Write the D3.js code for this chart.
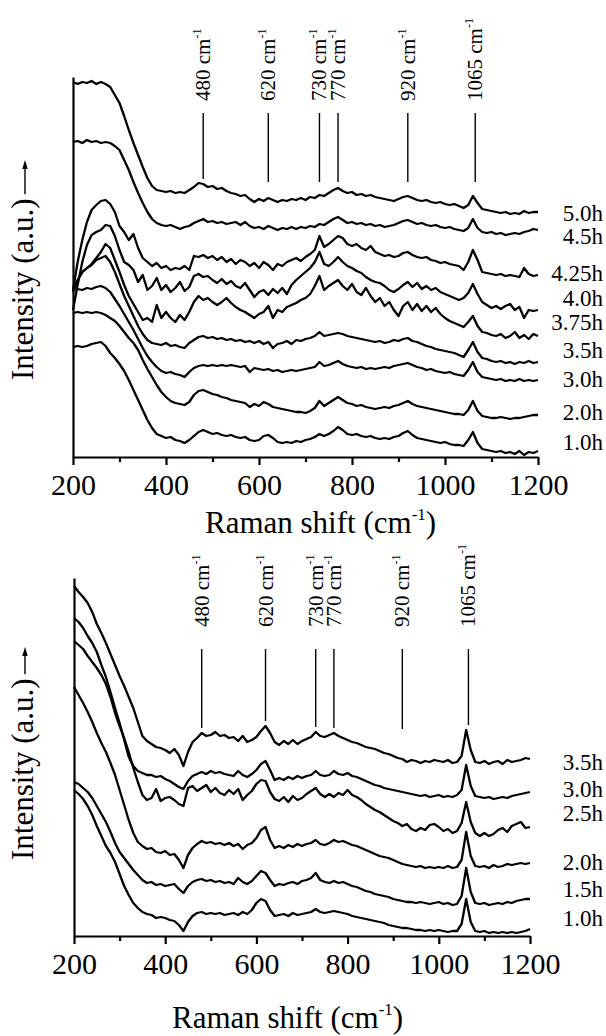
<!DOCTYPE html>
<html>
<head>
<meta charset="utf-8">
<script src="https://cdn.jsdelivr.net/npm/d3@7/dist/d3.min.js"></script>
<style>
  body { margin: 0; background: #fff; }
  text { font-family: "Liberation Serif", "Times New Roman", serif; fill: #000; }
</style>
</head>
<body>
<div id="chart"></div>
<script>
// Raman shift grid (cm-1) shared by every spectrum
var shift = d3.range(200, 1201, 10);

var xTicks = [200, 400, 600, 800, 1000, 1200];
var xMinorTicks = [300, 500, 700, 900, 1100];
var peaks = [480, 620, 730, 770, 920, 1065];

// upper panel, intensity in a.u. (stacked as plotted)
var topLabels = ["5.0h", "4.5h", "4.25h", "4.0h", "3.75h", "3.5h", "3.0h", "2.0h", "1.0h"];
var top50 = [418,416,418,417,419,416,418,416,413,405, 397,384,370,357,345,333,322,314,310,309, 308,309,307,308,307,310,313,317,316,313, 314,311,312,309,307,306,304,305,301,298, 301,299,302,300,298,300,299,301,300,302, 300,303,302,305,304,307,310,312,309,307, 308,305,306,304,305,303,302,301,300,299, 301,303,304,302,300,299,300,298,297,298, 296,295,296,294,292,295,304,297,291,290, 289,288,287,288,286,287,286,289,287,288, 288];
var top45 = [358,359,357,360,358,359,357,358,357,354, 350,340,330,318,307,297,288,281,277,275, 274,275,273,271,273,274,277,279,281,278, 279,277,278,276,277,278,275,278,274,272, 273,271,274,272,270,272,271,273,271,273, 272,274,273,276,275,278,281,283,280,277, 278,276,277,275,276,274,275,273,274,275, 277,279,280,278,276,277,275,274,275,273, 272,273,271,270,269,272,281,272,268,267, 268,266,267,265,266,267,266,268,269,271, 270];
var top425 = [210,238,260,278,290,295,299,300,296,288, 274,268,260,266,252,242,238,234,237,232, 234,230,232,231,234,230,244,243,245,242, 244,240,243,238,241,236,240,238,234,237, 232,238,235,230,236,234,238,240,242,239, 243,246,250,264,253,256,260,264,262,256, 254,256,252,250,254,248,246,244,245,243, 244,247,248,245,243,242,243,240,239,237, 238,236,235,234,230,238,250,240,228,227, 226,225,226,224,225,224,223,232,226,224, 225];
var top40 = [190,215,238,255,265,268,270,275,274,264, 250,238,235,230,218,225,210,214,222,210, 215,208,212,218,209,213,224,226,223,224, 220,217,221,216,219,214,212,217,210,203, 208,210,205,211,207,212,206,215,220,224, 228,232,238,248,236,234,238,243,238,234, 232,229,227,223,220,218,217,214,210,208, 211,215,218,213,217,211,214,210,212,208, 206,204,202,200,202,207,216,206,198,195, 192,194,191,194,196,190,193,182,190,189, 190];
var top375 = [208,220,228,232,236,242,248,256,252,240, 228,215,204,196,188,180,182,178,195,182, 188,182,178,185,180,188,198,204,200,202, 198,195,198,202,197,193,190,188,185,182, 186,188,194,182,190,188,193,195,197,200, 202,206,214,224,210,214,217,220,214,210, 216,208,205,212,204,198,202,194,198,190, 184,194,198,190,196,189,194,188,192,186, 182,179,177,175,173,178,184,174,168,167, 165,164,166,162,164,168,162,165,161,166, 164];
var top35 = [210,220,228,232,235,240,242,244,238,228, 216,204,194,184,174,166,160,157,156,155, 157,154,155,153,152,157,160,163,164,162, 163,161,162,160,161,159,160,158,159,157, 159,156,158,152,156,157,159,156,160,159, 161,162,164,168,164,165,166,167,166,164, 163,162,161,160,159,158,159,157,158,160, 159,161,162,159,158,156,154,153,151,150, 149,148,147,145,143,150,158,148,142,141, 139,138,139,137,138,136,138,137,139,137, 138];
var top30 = [210,211,210,212,211,213,214,212,208,201, 194,186,178,170,161,152,144,138,133,129, 127,128,126,125,123,128,132,134,135,134, 135,134,135,134,135,134,133,134,128,132, 131,130,131,129,130,128,129,130,129,130, 131,132,133,138,134,135,137,139,136,134, 133,132,133,131,132,131,132,133,132,134, 135,136,137,135,133,132,130,131,129,128, 127,128,126,125,124,130,138,128,123,122, 121,120,121,119,120,119,121,119,120,119, 120];
var top20 = [187,188,187,188,187,188,187,185,182,179, 174,168,162,157,150,140,131,123,115,108, 103,99,97,96,95,98,105,109,110,108, 106,105,103,102,100,99,98,97,93,96, 94,98,96,93,92,91,90,89,88,88, 87,89,92,99,94,97,100,103,100,97, 96,94,95,93,92,91,92,93,92,94, 95,97,99,96,94,93,92,91,90,89, 88,87,86,86,85,90,99,89,84,83, 82,82,83,82,81,82,82,83,84,85, 85];
var top10 = [153,154,153,154,156,157,158,154,147,142, 136,129,120,110,100,90,80,72,66,64, 62,63,60,59,57,60,64,68,70,68, 66,67,65,64,65,63,62,63,60,59, 60,64,65,62,58,57,58,57,59,58, 60,61,63,66,64,66,69,73,70,66, 65,66,64,63,64,62,61,62,61,63, 64,67,69,65,62,61,60,59,58,57, 58,56,55,55,54,60,68,57,51,50, 49,48,49,47,48,46,49,45,48,47, 49];

// lower panel
var botLabels = ["3.5h", "3.0h", "2.5h", "2.0h", "1.5h", "1.0h"];
var bot35 = [414,408,403,397,388,376,367,357,346,335, 324,314,303,292,278,264,259,256,253,252, 250,247,251,245,234,248,258,262,267,264, 265,268,264,265,262,263,259,264,258,260, 263,269,274,267,258,255,259,256,260,256, 259,261,263,268,264,263,265,267,264,262, 260,258,257,255,253,252,251,249,247,246, 244,242,241,238,240,239,237,239,238,240, 239,238,240,237,238,244,270,250,238,237, 239,236,238,239,236,240,238,239,240,242, 241];
var bot30 = [382,378,372,364,357,348,335,323,308,292, 277,260,243,234,229,227,225,225,223,224, 221,219,216,213,211,219,224,226,228,226, 229,227,228,226,225,224,229,225,223,226, 230,236,239,230,220,222,220,223,221,224, 222,224,225,229,225,224,225,229,226,225, 227,224,223,221,219,217,215,214,212,211, 210,209,208,207,206,205,204,205,203,204, 205,203,204,203,205,210,235,214,204,203, 202,203,201,202,203,202,204,205,206,207, 208];
var bot25 = [359,355,351,344,338,332,325,316,303,287, 274,262,248,232,218,205,200,202,211,199, 202,203,200,196,194,212,214,209,212,215, 208,212,207,205,210,206,211,200,205,209, 216,220,219,208,201,199,203,198,204,200, 202,206,209,212,206,203,206,203,207,205, 210,205,203,200,196,193,190,188,185,182, 179,177,174,176,171,169,172,170,175,176, 173,169,171,167,169,177,198,178,167,164, 167,164,166,170,172,168,174,176,178,172, 173];
var bot20 = [313,305,297,288,278,267,257,248,237,225, 210,195,180,167,158,154,151,152,148,147, 149,145,146,140,132,145,152,156,159,157, 158,156,157,155,157,154,156,151,155,157, 162,170,173,160,152,154,152,155,153,156, 154,156,157,160,156,155,157,160,158,159, 157,155,154,152,150,148,146,144,143,142, 140,138,136,135,134,133,134,132,133,132, 133,132,134,132,133,140,168,144,134,133, 134,132,135,133,134,136,135,136,137,136, 137];
var bot15 = [218,216,212,208,202,194,186,178,168,157, 148,142,136,130,125,120,117,118,115,116, 114,115,116,111,107,114,118,120,121,119, 120,118,119,117,118,116,122,118,116,119, 124,129,127,120,114,116,115,117,118,116, 119,120,122,127,120,118,117,119,117,118, 116,114,113,111,109,108,106,105,104,103, 101,100,99,98,98,97,98,97,96,97, 98,96,97,95,96,104,132,108,97,96, 97,95,96,97,96,98,97,99,100,101, 101];
var bot10 = [210,206,201,194,185,174,164,154,147,138, 126,114,105,97,92,88,86,85,82,83, 82,80,79,75,69,78,84,87,88,86, 87,86,87,85,86,87,85,88,86,90, 97,101,99,90,84,85,86,84,87,85, 86,87,88,91,88,87,88,89,88,87, 86,84,83,82,81,80,79,78,77,75, 74,73,72,72,71,70,70,69,70,69, 70,69,68,69,69,76,101,78,69,68, 69,67,68,67,68,67,68,67,68,69, 71];

// Layout of the two stacked panels
var panels = [
  {
    series: [top50, top45, top425, top40, top375, top35, top30, top20, top10],
    labels: topLabels,
    labelY: [213, 236, 273, 298, 322, 350, 379, 412, 442],
    left: 73, right: 538, top: 77, bottom: 457,
    domain: [43, 423],
    peakTextY: 101, peakLineTop: 113, peakLineMax: 182,
    titleX: 205, titleY: 533,
    yTitleStart: 380, arrowTip: 160
  },
  {
    series: [bot35, bot30, bot25, bot20, bot15, bot10],
    labels: botLabels,
    labelY: [762, 789, 813, 862, 889, 918],
    left: 74, right: 530, top: 578, bottom: 936,
    domain: [64, 422],
    peakTextY: 627, peakLineTop: 649, peakLineMax: 729,
    titleX: 172, titleY: 1028,
    yTitleStart: 860, arrowTip: 647
  }
];

var svg = d3.select("#chart")
  .append("svg")
  .attr("width", 606)
  .attr("height", 1036);

panels.forEach(function(p) {
  var x = d3.scaleLinear().domain([200, 1200]).range([p.left, p.right]);
  var y = d3.scaleLinear().domain(p.domain).range([p.bottom, p.top]);

  var line = d3.line()
    .x((d, i) => x(shift[i]))
    .y(d => y(d));

  // spectra
  svg.append("g")
    .selectAll("path")
    .data(p.series)
    .enter()
    .append("path")
    .attr("d", line)
    .attr("fill", "none")
    .attr("stroke", "#000")
    .attr("stroke-width", 2.3)
    .attr("stroke-linejoin", "round");

  // axes
  var xAxis = svg.append("g")
    .attr("transform", `translate(0, ${p.bottom})`)
    .call(d3.axisBottom(x).tickValues(xTicks).tickFormat(d3.format("d"))
      .tickSize(8).tickSizeOuter(0).tickPadding(9));
  xAxis.selectAll("text").style("font-size", "30px").attr("fill", "#000");

  var xMinor = svg.append("g")
    .attr("transform", `translate(0, ${p.bottom})`)
    .call(d3.axisBottom(x).tickValues(xMinorTicks).tickSize(5).tickFormat(""));
  xMinor.select(".domain").remove();

  svg.append("g")
    .attr("transform", `translate(${p.left}, 0)`)
    .call(d3.axisLeft(y).tickValues([]).tickSizeOuter(0));

  svg.selectAll(".domain, .tick line")
    .attr("stroke", "#000")
    .attr("stroke-width", 2.2);

  // peak markers
  peaks.forEach(function(pk) {
    var i0 = Math.floor((pk - 200) / 10), i1 = Math.ceil((pk - 200) / 10);
    var high = Math.max(p.series[0][i0], p.series[0][i1]);
    var y2 = Math.min(p.peakLineMax, y(high) - 5);
    svg.append("line")
      .attr("x1", x(pk)).attr("x2", x(pk))
      .attr("y1", p.peakLineTop).attr("y2", y2)
      .attr("stroke", "#000")
      .attr("stroke-width", 1.4);

    var t = svg.append("text")
      .attr("transform", `translate(${x(pk) + 7}, ${p.peakTextY}) rotate(-90)`)
      .style("font-size", "21px");
    t.append("tspan").text(pk + " cm");
    t.append("tspan").attr("dy", -9).style("font-size", "12px").text("-1");
  });

  // series labels
  svg.append("g")
    .selectAll("text")
    .data(p.labels)
    .enter()
    .append("text")
    .attr("x", 603)
    .attr("y", (d, i) => p.labelY[i])
    .attr("dy", "0.35em")
    .attr("text-anchor", "end")
    .style("font-size", "23px")
    .text(d => d);

  // x axis title
  var xt = svg.append("text")
    .attr("x", p.titleX)
    .attr("y", p.titleY)
    .style("font-size", "31px");
  xt.append("tspan").text("Raman shift (cm");
  xt.append("tspan").attr("dy", -13).style("font-size", "17px").text("-1");
  xt.append("tspan").attr("dy", 13).text(")");

  // y axis title with arrow
  var yt = svg.append("text")
    .attr("transform", `translate(33, ${p.yTitleStart}) rotate(-90)`)
    .style("font-size", "31px")
    .text("Intensity (a.u.)");
  var len = yt.node().getComputedTextLength();
  var arrowStart = p.yTitleStart - len - 4;
  svg.append("line")
    .attr("x1", 25).attr("x2", 25)
    .attr("y1", arrowStart).attr("y2", p.arrowTip + 6)
    .attr("stroke", "#000")
    .attr("stroke-width", 1.4);
  svg.append("path")
    .attr("d", `M25,${p.arrowTip} L22.3,${p.arrowTip + 9} L27.7,${p.arrowTip + 9} Z`)
    .attr("fill", "#000");
});
</script>
</body>
</html>
